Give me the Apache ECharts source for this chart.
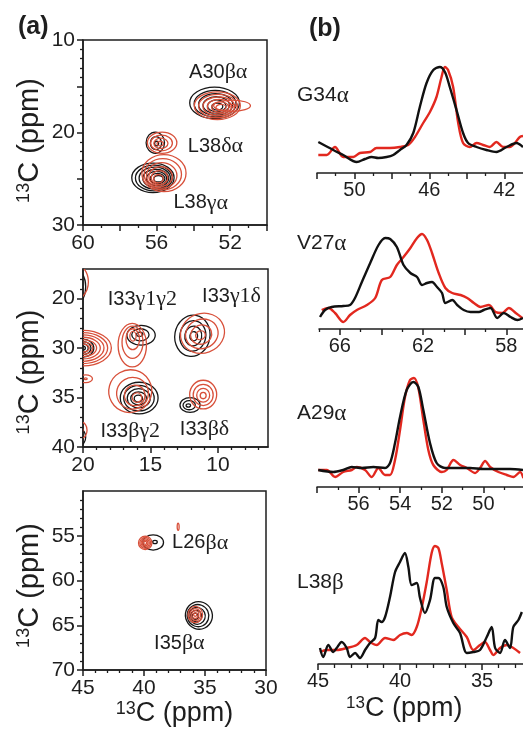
<!DOCTYPE html>
<html><head><meta charset="utf-8">
<script src="https://cdn.jsdelivr.net/npm/echarts@6/dist/echarts.min.js"></script>
<style>html,body{margin:0;padding:0;background:#fff}#c{width:523px;height:740px}</style>
</head><body><div id="c"></div>
<script>
// ---------------- DATA ----------------
// Panel (a) axis ticks
const aTopXMajor=[60,58,56,54,52,50], aTopXMinor=[59,57,55,53,51], aTopXLabels=[60,56,52];
const aTopYMajor=[10,15,20,25,30], aTopYMinor=[11,12,13,14,16,17,18,19,21,22,23,24,26,27,28,29], aTopYLabels=[10,20,30];
const aMidXMajor=[20,15,10], aMidXMinor=[19,18,17,16,14,13,12,11,9,8,7], aMidXLabels=[20,15,10];
const aMidYMajor=[25,30,35,40], aMidYMinor=[23,24,26,27,28,29,31,32,33,34,36,37,38,39], aMidYLabels=[25,30,35,40];
const aMidYLabelText=['20','30','35','40'];
const aBotXMajor=[45,40,35,30], aBotXMinor=[44,43,42,41,39,38,37,36,34,33,32,31], aBotXLabels=[45,40,35,30];
const aBotYMajor=[55,60,65,70], aBotYMinor=[51,52,53,54,56,57,58,59,61,62,63,64,66,67,68,69], aBotYLabels=[55,60,65,70];

// Contour peaks: [x ppm, y ppm, rx ppm, ry ppm, levels, inner x, inner y, rotation deg]
const topBlack=[[52.85,16.8,1.35,1.7,6,52.7,17.2,0],[56.07,21.1,0.5,1.15,3,56.0,21.2,0],[56.2,24.9,1.15,1.6,7,55.9,25.0,0]];
const topRed=[[52.7,17.1,1.25,1.5,6,52.5,17.3,0],[51.9,17.1,1.0,0.6,2,51.9,17.1,0],[55.7,21.1,0.8,1.15,4,55.8,21.2,0],[55.6,24.4,1.2,2.0,6,55.9,25.0,0]];
const midBlack=[[15.7,28.7,1.05,1.0,3,15.8,28.6,0],[11.9,28.75,1.3,2.1,4,11.8,28.8,-10],[15.84,35.05,1.4,1.6,5,15.9,35.1,0],[12.07,35.75,0.75,0.75,3,12.2,35.8,0],[20.0,30.0,0.8,0.9,4,20.0,30.0,0],[20.8,23.8,1.0,2.0,3,20.8,23.8,0],[20.2,39.0,0.4,0.8,2,20.2,39.0,0]];
const midRed=[[16.35,29.7,1.05,2.2,4,16.3,28.8,0],[11.15,28.5,1.65,2.0,4,11.3,28.7,20],[16.5,34.35,1.6,2.15,4,16.0,35.0,30],[11.1,34.7,1.0,1.45,4,11.1,34.8,0],[20.0,30.0,2.1,1.8,7,20.0,30.0,0],[20.9,23.3,1.3,2.0,3,20.9,23.3,0],[19.8,33.1,0.5,0.4,2,19.8,33.1,0],[20.1,38.3,0.4,0.8,2,20.1,38.3,0]];
const botBlack=[[39.25,55.75,0.85,0.85,2,39.1,55.7,0],[35.5,63.9,1.1,1.55,5,35.8,64.0,25]];
const botRed=[[39.9,55.8,0.55,0.75,5,39.9,55.8,0],[37.2,54.0,0.08,0.4,1,37.2,54.0,0],[35.8,63.8,0.6,0.9,4,35.8,63.8,0]];

// Peak labels: [x ppm, y ppm, text]
const topLabels=[[52.65,13.5,'A30βα'],[52.8,21.5,'L38δα'],[53.6,27.6,'L38γα']];
const midLabels=[[15.6,25.1,'I33γ1γ2'],[9.0,24.8,'I33γ1δ'],[16.5,38.4,'I33βγ2'],[11.0,38.2,'I33βδ']];
const botLabels=[[35.4,55.8,'L26βα'],[37.1,67.0,'I35βα']];

// Panel (b) axis ticks
const g34Major=[42,44,46,48,50,52], g34Minor=[43,45,47,49,51], g34Labels=[42,46,50];
const v27Major=[58,60,62,64,66], v27Minor=[59,61,63,65,67], v27Labels=[58,62,66];
const a29Major=[50,52,54,56,58], a29Minor=[49,51,53,55,57], a29Labels=[50,52,54,56];
const l38Major=[35,40,45], l38Minor=[33,34,36,37,38,39,41,42,43,44], l38Labels=[35,40,45];

// 1D slices: [ppm, intensity]
const g34Black=[[51.93,31],[51.13,23],[50.6,18],[49.88,11],[49.44,14],[49.08,16],[48.73,15],[48.28,16],[47.93,18],[47.57,23],[47.22,28],[46.86,40],[46.51,66],[46.15,90],[45.79,103],[45.44,106],[45.17,101],[44.91,86],[44.55,63],[44.2,40],[43.93,30],[43.48,26],[42.95,23],[42.42,21],[41.88,26],[41.35,30],[41.0,26]];
const g34Red=[[51.93,18],[51.48,18],[51.04,26],[50.6,16],[50.06,16],[49.71,20],[49.17,21],[48.82,25],[48.11,25],[47.57,26],[47.13,28],[46.77,36],[46.33,50],[45.97,61],[45.62,76],[45.35,96],[45.17,106],[45.0,103],[44.73,86],[44.46,50],[44.2,30],[43.84,26],[43.48,30],[43.13,28],[42.77,26],[42.42,31],[42.06,26],[41.7,26],[41.17,36],[41.0,37]];
const v27Black=[[66.95,12],[66.71,19],[66.39,22],[65.83,23],[65.51,24],[65.27,31],[64.94,47],[64.54,66],[64.14,84],[63.82,91],[63.58,90],[63.26,82],[62.94,64],[62.61,56],[62.29,52],[62.05,44],[61.81,46],[61.57,47],[61.33,42],[61.09,36],[60.93,26],[60.6,29],[60.36,24],[60.05,19],[59.72,17],[59.32,17],[59.08,19],[58.76,21],[58.44,11],[58.12,16],[57.8,12],[57.47,9],[57.2,11]];
const v27Red=[[66.87,19],[66.55,21],[66.23,16],[65.83,7],[65.51,14],[65.18,19],[64.7,24],[64.3,31],[63.98,49],[63.58,52],[63.26,64],[62.94,72],[62.61,81],[62.29,91],[62.05,95],[61.81,89],[61.57,76],[61.25,56],[60.93,41],[60.6,36],[60.2,34],[59.88,31],[59.56,26],[59.24,22],[58.84,24],[58.52,17],[58.2,16],[57.88,21],[57.55,16],[57.23,11]];
const a29Black=[[57.94,17],[57.22,15],[56.74,17],[56.33,20],[55.85,19],[55.29,20],[54.73,19],[54.49,24],[54.25,44],[54.01,70],[53.69,97],[53.37,105],[53.13,100],[52.89,77],[52.57,44],[52.25,24],[51.85,19],[51.28,19],[50.64,19],[50.0,18],[49.36,18],[48.72,18],[48.1,17]];
const a29Red=[[57.94,17],[57.53,17],[57.13,10],[56.74,15],[56.33,17],[56.09,20],[55.69,17],[55.37,10],[55.05,19],[54.73,12],[54.49,12],[54.25,27],[54.01,57],[53.77,90],[53.53,107],[53.34,109],[53.13,99],[52.89,67],[52.65,37],[52.41,22],[52.0,15],[51.77,17],[51.44,27],[51.12,22],[50.8,19],[50.4,14],[50.16,19],[49.92,26],[49.68,20],[49.28,15],[48.88,12],[48.56,10],[48.24,15],[48.08,9]];
const l38Black=[[44.88,16],[44.68,7],[44.37,19],[44.07,12],[43.86,16],[43.56,22],[43.25,16],[43.05,7],[42.74,11],[42.44,6],[42.13,14],[41.83,21],[41.52,26],[41.32,44],[41.12,42],[40.91,47],[40.61,67],[40.3,92],[40.0,102],[39.7,111],[39.49,97],[39.29,79],[38.98,81],[38.78,66],[38.48,51],[38.17,64],[37.87,86],[37.66,86],[37.36,77],[37.15,57],[36.75,41],[36.34,31],[35.93,11],[35.53,12],[35.12,14],[34.71,27],[34.41,37],[34.2,16],[33.9,11],[33.6,24],[33.29,16],[33.09,37],[32.78,44],[32.57,52]];
const l38Red=[[44.88,12],[44.47,14],[43.86,14],[43.25,16],[42.64,19],[42.13,26],[41.83,22],[41.42,19],[40.91,26],[40.41,24],[40.0,29],[39.59,31],[39.29,29],[38.98,37],[38.68,56],[38.37,82],[38.07,111],[37.87,118],[37.66,116],[37.46,101],[37.15,74],[36.85,47],[36.44,37],[35.93,27],[35.53,14],[35.12,19],[34.82,22],[34.51,14],[34.31,9],[33.9,16],[33.49,19],[33.09,16],[32.68,11]];

// ---------------- CHART ----------------
const FONT='"Liberation Sans", Arial, sans-serif';
const SERIF='"Liberation Serif", "Times New Roman", serif';
const INK='#1e1e1e', CBLK='#161616', CRED='#d8503a', SBLK='#111111', SRED='#e2281f';

const grids=[], xAxes=[], yAxes=[], series=[];
function axisPair(dim, gi, o){
  const arr = dim==='x'? xAxes : yAxes;
  const idx = arr.length;
  const pos = dim==='x' ? 'bottom' : 'left';
  const nfs = dim==='y' ? 29 : 27;
  arr.push({
    type:'value', gridIndex:gi, min:o.min, max:o.max, inverse:o.inverse, position:pos,
    axisLine:{show:true, onZero:false, lineStyle:{color:INK, width:1.5}},
    axisTick:{show:true, inside:false, length:o.tickLen||6, customValues:o.major, lineStyle:{color:INK, width:1.5}},
    axisLabel:{show:true, customValues:o.labels, margin:o.margin||8, fontSize:o.fontSize||21, fontFamily:FONT, color:INK,
      formatter:o.fmt || (v=>String(v))},
    splitLine:{show:false},
    name:o.name||'', nameLocation:'middle', nameGap:o.nameGap||30,
    nameTextStyle:{fontSize:nfs, fontFamily:FONT, color:INK, padding:o.namePad||0,
      rich:{s:{fontSize:18, fontFamily:FONT, color:INK, verticalAlign:'top'}}}
  });
  arr.push({
    type:'value', gridIndex:gi, min:o.min, max:o.max, inverse:o.inverse, position:pos,
    axisLine:{show:false, onZero:false},
    axisTick:{show:true, inside:false, length:o.minorLen||3, customValues:o.minor, lineStyle:{color:INK, width:1.3}},
    axisLabel:{show:false}, splitLine:{show:false}
  });
  return idx;
}
function contourRenderer(color){
  return function(params, api){
    const n=api.value(4);
    const p0=api.coord([api.value(0),api.value(1)]);
    const p1=api.coord([api.value(5),api.value(6)]);
    const sz=api.size([api.value(2),api.value(3)]);
    const rot=api.value(7)*Math.PI/180;
    const kids=[];
    for(let k=0;k<n;k++){
      const t=n>1?k/(n-1):0, f=1-0.78*t;
      kids.push({type:'ellipse', x:p0[0]+(p1[0]-p0[0])*t, y:p0[1]+(p1[1]-p0[1])*t, rotation:rot,
        shape:{cx:0,cy:0,rx:Math.abs(sz[0])*f, ry:Math.abs(sz[1])*f},
        style:{fill:'none', stroke:color, lineWidth:1.3}});
    }
    return {type:'group', children:kids};
  };
}
function richName(s){
  const m=s.match(/^([A-Z]\d+)(.*)$/);
  return '{n|'+m[1]+'}{g|'+m[2]+'}';
}
function labelRenderer(params, api){
  const p=api.coord([api.value(0),api.value(1)]);
  return {type:'text', x:p[0], y:p[1], style:{text:richName(labelsAll[params.seriesIndex][params.dataIndex][2]),
    align:'center', verticalAlign:'middle',
    rich:{n:{fontSize:20, fontFamily:FONT, fill:INK}, g:{fontSize:22, fontFamily:SERIF, fill:INK}}}};
}
const labelsAll={};
function panelA(rect, xo, yo, black, red, labels){
  const gi=grids.length;
  grids.push(Object.assign({show:true, borderColor:INK, borderWidth:1.5, backgroundColor:'transparent'}, rect));
  const xi=axisPair('x', gi, xo), yi=axisPair('y', gi, yo);
  series.push({type:'custom', xAxisIndex:xi, yAxisIndex:yi, data:black, renderItem:contourRenderer(CBLK), clip:true, silent:true, encode:{x:0,y:1}});
  series.push({type:'custom', xAxisIndex:xi, yAxisIndex:yi, data:red, renderItem:contourRenderer(CRED), clip:true, silent:true, encode:{x:0,y:1}});
  labelsAll[series.length]=labels;
  series.push({type:'custom', xAxisIndex:xi, yAxisIndex:yi, data:labels.map(l=>[l[0],l[1]]), renderItem:labelRenderer, silent:true, encode:{x:0,y:1}, z:5});
}
function panelB(rect, xo, black, red){
  const gi=grids.length;
  grids.push(Object.assign({show:false}, rect));
  const xi=axisPair('x', gi, Object.assign({fontSize:20, margin:7}, xo));
  const yi=yAxes.length;
  yAxes.push({type:'value', gridIndex:gi, min:0, max:120, show:false});
  series.push({type:'line', xAxisIndex:xi, yAxisIndex:yi, data:red, showSymbol:false, smooth:0.3, clip:true, silent:true, lineStyle:{color:SRED, width:2.4}});
  series.push({type:'line', xAxisIndex:xi, yAxisIndex:yi, data:black, showSymbol:false, smooth:0.3, clip:true, silent:true, lineStyle:{color:SBLK, width:2.4}});
}

panelA({left:83, top:40, width:184, height:185},
  {min:50, max:60, inverse:true, major:aTopXMajor, minor:aTopXMinor, labels:aTopXLabels},
  {min:10, max:30, inverse:true, major:aTopYMajor, minor:aTopYMinor, labels:aTopYLabels, name:'{s|13}C (ppm)', nameGap:39, namePad:[0,16,0,0]},
  topBlack, topRed, topLabels);
panelA({left:83, top:269, width:185, height:178},
  {min:6.3, max:20, inverse:true, major:aMidXMajor, minor:aMidXMinor, labels:aMidXLabels},
  {min:22, max:40, inverse:true, major:aMidYMajor, minor:aMidYMinor, labels:aMidYLabels, name:'{s|13}C (ppm)', nameGap:39, namePad:[0,28,0,0],
   fmt:v=>aMidYLabelText[aMidYLabels.indexOf(v)]},
  midBlack, midRed, midLabels);
panelA({left:83, top:491, width:183, height:179},
  {min:30, max:45, inverse:true, major:aBotXMajor, minor:aBotXMinor, labels:aBotXLabels, name:'{s|13}C (ppm)', nameGap:30},
  {min:50, max:70, inverse:true, major:aBotYMajor, minor:aBotYMinor, labels:aBotYLabels, name:'{s|13}C (ppm)', nameGap:39, namePad:[0,10,0,0]},
  botBlack, botRed, botLabels);

panelB({left:317, top:53, width:206, height:120}, {min:41.0, max:52, inverse:true, major:g34Major, minor:g34Minor, labels:g34Labels}, g34Black, g34Red);
panelB({left:319, top:209, width:204, height:120}, {min:57.2, max:67, inverse:true, major:v27Major, minor:v27Minor, labels:v27Labels}, v27Black, v27Red);
panelB({left:317, top:367, width:206, height:120}, {min:48.1, max:58, inverse:true, major:a29Major, minor:a29Minor, labels:a29Labels}, a29Black, a29Red);
panelB({left:318, top:544, width:205, height:120}, {min:32.5, max:45, inverse:true, major:l38Major, minor:l38Minor, labels:l38Labels, minorLen:4}, l38Black, l38Red);

const sliceNames=[['G34α',84],['V27α',232],['A29α',402],['L38β',571]];
const titles=[
  {text:'(a)', left:13, top:10, textStyle:{fontSize:25, fontWeight:'bold', fontFamily:FONT, color:INK}},
  {text:'(b)', left:304, top:12, textStyle:{fontSize:25, fontWeight:'bold', fontFamily:FONT, color:INK}}
].concat(sliceNames.map(s=>({text:richName(s[0]), left:297, top:s[1], padding:0,
  textStyle:{fontWeight:'normal', rich:{n:{fontSize:21, fontWeight:'normal', fontFamily:FONT, color:INK}, g:{fontSize:23, fontWeight:'normal', fontFamily:SERIF, color:INK}}}})));

const chart=echarts.init(document.getElementById('c'), null, {renderer:'canvas'});
chart.setOption({
  animation:false, backgroundColor:'#fff',
  title:titles, grid:grids, xAxis:xAxes, yAxis:yAxes, series:series,
  graphic:[{type:'text', left:346, top:695, style:{text:'{s|13}C (ppm)', font:'27px '+FONT, fill:INK,
    rich:{s:{fontSize:17, fontFamily:FONT, fill:INK, verticalAlign:'top'}}}}]
});
</script></body></html>
